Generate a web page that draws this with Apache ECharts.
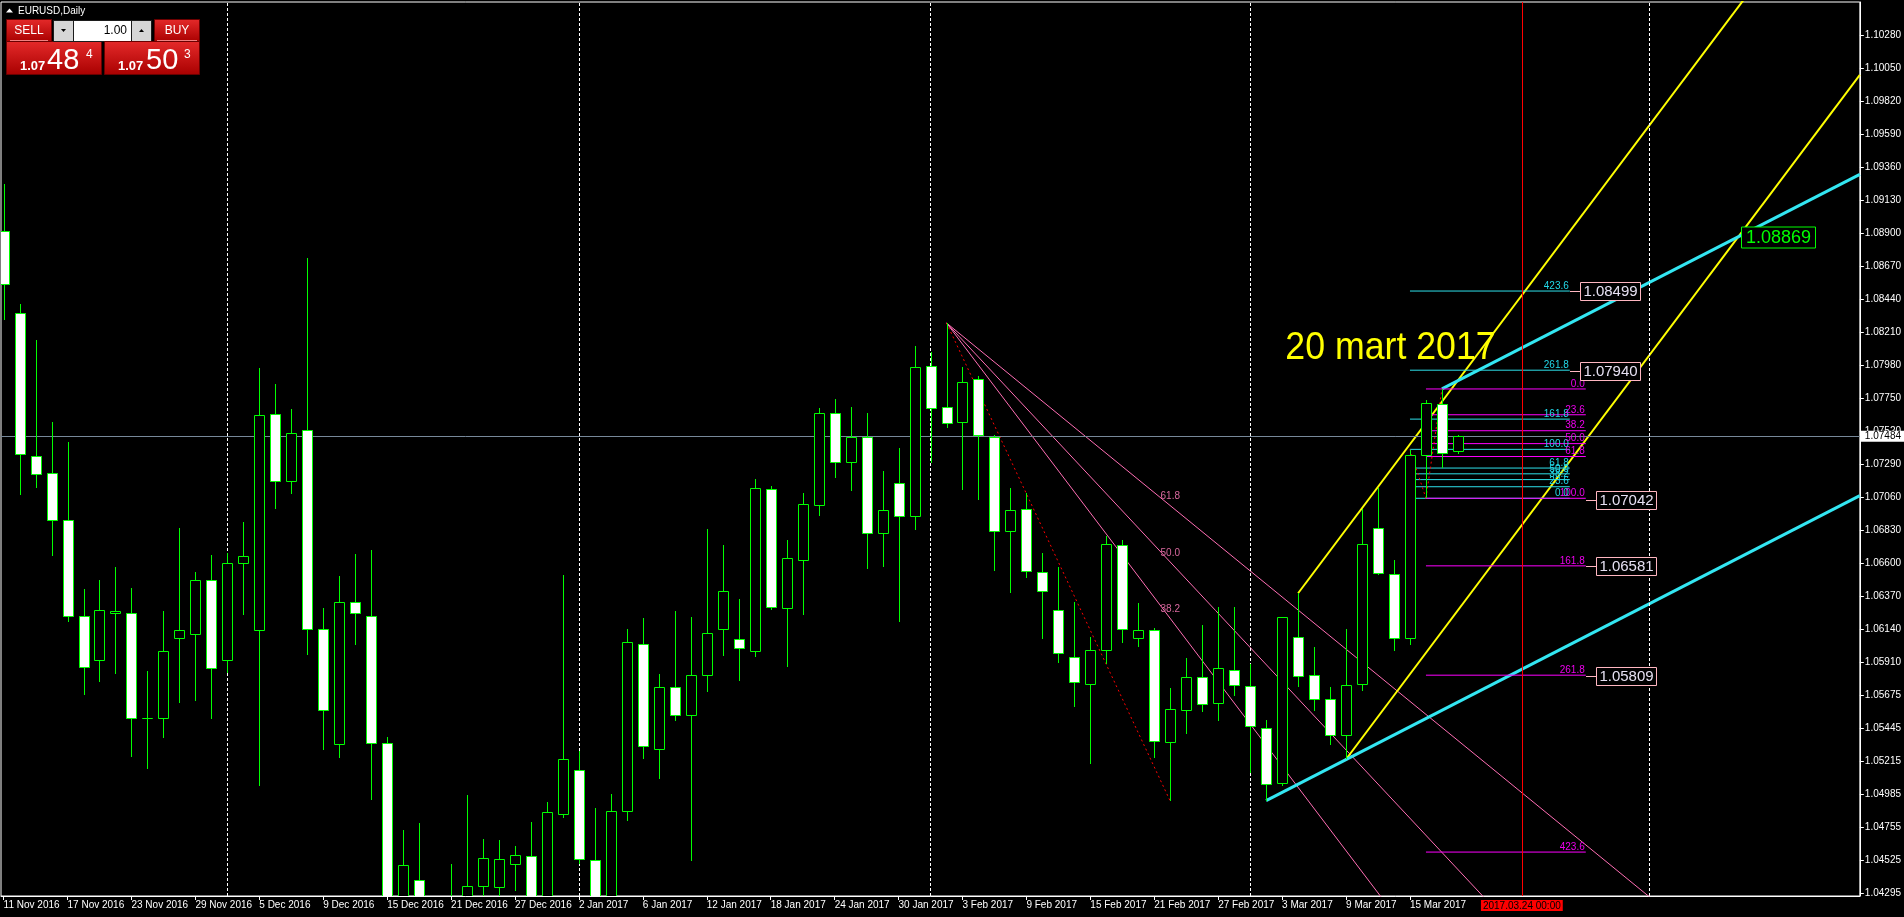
<!DOCTYPE html>
<html><head><meta charset="utf-8">
<script src="https://cdn.jsdelivr.net/npm/echarts@6/dist/echarts.min.js"></script>
<style>html,body{margin:0;padding:0;background:#000;overflow:hidden}#c{width:1904px;height:917px}</style>
</head><body><div id="c"></div>
<script>
// ---------------- DATA ----------------
const barIndex = Array.from({length: 92}, (_, i) => i); // 11 Nov 2016 .. 20 Mar 2017 (daily bars)
const open  = [1.08917,1.08340,1.07344,1.07224,1.06902,1.06234,1.05922,1.06252,1.06253,1.05517,
               1.05517,1.06074,1.06107,1.06484,1.05922,1.06603,1.06130,1.07636,1.07168,1.07526,
               1.06143,1.05335,1.06331,1.06234,1.05348,1.04100,1.04388,1.04000,1.03820,1.04240,
               1.04351,1.04345,1.04504,1.04556,1.04120,1.04848,1.05160,1.04533,1.04050,1.04874,
               1.06033,1.05301,1.05734,1.05544,1.05817,1.06139,1.06067,1.05985,1.07113,1.06283,
               1.06619,1.07006,1.07643,1.07302,1.07478,1.06806,1.07161,1.06931,1.07972,1.07684,
               1.07585,1.07881,1.07481,1.06822,1.06974,1.06539,1.06275,1.05947,1.05760,1.05992,
               1.06723,1.06075,1.06131,1.05350,1.05573,1.05803,1.05627,1.05856,1.05744,1.05451,
               1.05064,1.06081,1.05817,1.05649,1.05400,1.05755,1.06846,1.06523,1.06075,1.07350,
               1.07706,1.07378];
const high  = [1.09240,1.08402,1.08155,1.07583,1.07444,1.06419,1.06481,1.06571,1.06425,1.05848,
               1.06263,1.06847,1.06536,1.06656,1.06672,1.06883,1.07957,1.07846,1.07675,1.08726,
               1.06286,1.06509,1.06662,1.06691,1.05384,1.04738,1.04786,1.04210,1.04501,1.04984,
               1.04676,1.04670,1.04628,1.04796,1.04933,1.06519,1.05290,1.04890,1.04991,1.06143,
               1.06217,1.05827,1.06265,1.06224,1.06838,1.06726,1.06350,1.07188,1.07134,1.06760,
               1.07089,1.07681,1.07742,1.07686,1.07643,1.07240,1.07398,1.08110,1.08071,1.08273,
               1.07963,1.07900,1.07490,1.07126,1.07091,1.06668,1.06571,1.06326,1.06081,1.06785,
               1.06758,1.06320,1.06147,1.05726,1.05939,1.06166,1.06294,1.06294,1.05897,1.05504,
               1.06227,1.06389,1.06014,1.05739,1.06139,1.06979,1.07126,1.06619,1.07388,1.07736,
               1.07813,1.07494];
const low   = [1.08291,1.07077,1.07123,1.06649,1.06192,1.05679,1.05770,1.05825,1.05247,1.05163,
               1.05377,1.05624,1.05637,1.05513,1.05835,1.06240,1.05049,1.06973,1.07084,1.05961,
               1.05299,1.05241,1.06026,1.04949,1.03660,1.03950,1.03850,1.03520,1.03730,1.04120,
               1.04250,1.04270,1.04316,1.03880,1.04050,1.04825,1.04504,1.03400,1.03900,1.04800,
               1.05237,1.05096,1.05501,1.04525,1.05704,1.05955,1.05776,1.05944,1.06272,1.05878,
               1.06240,1.06931,1.07192,1.07099,1.06560,1.06569,1.06192,1.06833,1.07300,1.07539,
               1.07107,1.07040,1.06547,1.06392,1.06494,1.06067,1.05904,1.05598,1.05198,1.05899,
               1.06040,1.06014,1.05243,1.04940,1.05405,1.05560,1.05501,1.05675,1.05136,1.04944,
               1.05046,1.05739,1.05571,1.05334,1.05232,1.05707,1.06513,1.05987,1.06030,1.07051,
               1.07264,1.07358];
const close = [1.08545,1.07360,1.07217,1.06899,1.06234,1.05877,1.06270,1.06266,1.05517,1.05517,
               1.05984,1.06136,1.06484,1.05870,1.06603,1.06646,1.07629,1.07168,1.07509,1.06143,
               1.05578,1.06331,1.06253,1.05348,1.04100,1.04492,1.04000,1.03820,1.04240,1.04351,
               1.04547,1.04540,1.04563,1.04100,1.04861,1.05237,1.04537,1.04050,1.04868,1.06046,
               1.05323,1.05734,1.05544,1.05817,1.06115,1.06408,1.06005,1.07126,1.06291,1.06638,
               1.07014,1.07643,1.07302,1.07478,1.06806,1.06966,1.06926,1.07963,1.07678,1.07574,
               1.07859,1.07489,1.06822,1.06966,1.06542,1.06403,1.05971,1.05771,1.05992,1.06731,
               1.06139,1.06134,1.05357,1.05579,1.05808,1.05617,1.05865,1.05750,1.05464,1.05059,
               1.06221,1.05811,1.05651,1.05400,1.05752,1.06729,1.06529,1.06075,1.07350,1.07713,
               1.07365,1.07484];

const xTickIdx    = [0,4,8,12,16,20,24,28,32,36,40,44,48,52,56,60,64,68,72,76,80,84,88];
const xTickLabels = ['11 Nov 2016','17 Nov 2016','23 Nov 2016','29 Nov 2016','5 Dec 2016','9 Dec 2016',
                     '15 Dec 2016','21 Dec 2016','27 Dec 2016','2 Jan 2017','6 Jan 2017','12 Jan 2017',
                     '18 Jan 2017','24 Jan 2017','30 Jan 2017','3 Feb 2017','9 Feb 2017','15 Feb 2017',
                     '21 Feb 2017','27 Feb 2017','3 Mar 2017','9 Mar 2017','15 Mar 2017'];
const yTickLabels = ['1.10280','1.10050','1.09820','1.09590','1.09360','1.09130','1.08900','1.08670',
                     '1.08440','1.08210','1.07980','1.07750','1.07520','1.07290','1.07060','1.06830',
                     '1.06600','1.06370','1.06140','1.05910','1.05675','1.05445','1.05215','1.04985',
                     '1.04755','1.04525','1.04295'];
const monthLines  = [14, 36, 58, 78, 103];
const currentPrice = 1.07484;
const timeLineIdx = 95, timeLineLabel = '2017.03.24 00:00';

// Fibonacci fan (high 2 Feb -> low 22 Feb)
const fanP1 = [59, 1.08273], fanP2 = [73, 1.04940];
const fanLevels = [38.2, 50.0, 61.8];
// Yellow channel
const yellowBase = [84, 1.05232], yellowBase2 = [100, 1.07606], yellowPar = [81, 1.06389];
// Cyan channel
const cyanBase = [79, 1.04944], cyanBase2 = [84, 1.05230], cyanPar = [90, 1.07813];
// Fibonacci levels
const fibLevels = [0, 23.6, 38.2, 50, 61.8, 100, 161.8, 261.8, 423.6];
const fibMagenta = {x1: 89, p100: 1.07051, x2: 90, p0: 1.07813, xEnd: 99};
const fibCyan    = {x1: 88, p100: 1.07392, x2: 89, p0: 1.07051, xEnd: 98};
// price labels
const priceBoxTexts = ['1.08499','1.07940','1.07042','1.06581','1.05809'];
const priceBoxValues = [1.08499, 1.07940, 1.07042, 1.06581, 1.05809];
const priceBoxIdx = [98, 98, 99, 99, 99];
const crossLabel = '1.08869';
const noteText = '20 mart 2017', notePos = [80.2, 1.08094];

// ---------------- CHART ----------------
const xMin = -0.1625, xMax = 116.15, yMin = 1.04279, yMax = 1.10510;
const FONT = '"Liberation Sans", Arial, sans-serif';

const segs = [];
function seg(a, b, color, width, type, z) { segs.push({a, b, color, width: width || 1, type: type || 'solid', z: z || 1}); }
function lineAt(p, slope, x) { return p[1] + slope * (x - p[0]); }

// fan
const fanSlopes = fanLevels.map(l => {
  const target = fanP2[1] + l / 100 * (fanP1[1] - fanP2[1]);
  return (target - fanP1[1]) / (fanP2[0] - fanP1[0]);
});
fanSlopes.forEach(s => seg(fanP1, [xMax, lineAt(fanP1, s, xMax)], '#ff6eb4', 1));
seg(fanP1, fanP2, '#ff0000', 1, [2, 3]);
// yellow channel
const ySlope = (yellowBase2[1] - yellowBase[1]) / (yellowBase2[0] - yellowBase[0]);
seg(yellowBase, [xMax, lineAt(yellowBase, ySlope, xMax)], '#ffff00', 2);
seg(yellowPar, [xMax, lineAt(yellowPar, ySlope, xMax)], '#ffff00', 2);
// cyan channel
const cSlope = (cyanBase2[1] - cyanBase[1]) / (cyanBase2[0] - cyanBase[0]);
seg(cyanBase, [xMax, lineAt(cyanBase, cSlope, xMax)], '#33e6f2', 3);
seg(cyanPar, [xMax, lineAt(cyanPar, cSlope, xMax)], '#33e6f2', 3);
// intersection of lower yellow & upper cyan
const crossX = (cyanPar[1] - cSlope * cyanPar[0] - yellowBase[1] + ySlope * yellowBase[0]) / (ySlope - cSlope);
const crossY = lineAt(yellowBase, ySlope, crossX);

// fib
const labelItems = [];
function fibDraw(f, color, txtColor) {
  fibLevels.forEach(l => {
    const p = f.p0 + (f.p100 - f.p0) * l / 100;
    seg([f.x1, p], [f.xEnd, p], color, 1);
    labelItems.push({x: f.xEnd, y: p, text: l.toFixed(1), color: txtColor, font: '10px ' + FONT, align: 'right', vAlign: 'bottom', dx: -1, dy: 0});
  });
  seg([f.x1, f.p100], [f.x2, f.p0], '#ff0000', 1, [2, 3]);
}
fibDraw(fibCyan, '#2ee0ea', '#22d8e8');
fibDraw(fibMagenta, '#ff00ff', '#ee00ee');
// fan labels
fanLevels.forEach(l => {
  const target = fanP2[1] + l / 100 * (fanP1[1] - fanP2[1]);
  labelItems.push({x: fanP2[0], y: target, text: l.toFixed(1), color: '#d8689e', font: '10px ' + FONT, align: 'center', vAlign: 'bottom', dx: 0, dy: -4});
});
labelItems.push({x: notePos[0], y: notePos[1], text: noteText, color: '#ffff00', font: '39px ' + FONT, align: 'left', vAlign: 'middle', dx: 0, dy: 0, scaleX: 0.915});

const boxes = priceBoxTexts.map((t, k) => ({x: priceBoxIdx[k], y: priceBoxValues[k], text: t, border: '#ffb6c1', color: '#e6e0f2', font: '15px ' + FONT, w: 60, h: 18}));
boxes.push({x: crossX + 0.15, y: crossY, text: crossLabel, border: '#00ff00', color: '#00ff00', font: '18px ' + FONT, w: 74, h: 21, noConn: true});

const chart = echarts.init(document.getElementById('c'), null, {renderer: 'canvas'});

function renderCandle(params, api) {
  const i = api.value(0), o = api.value(1), c = api.value(2), l = api.value(3), h = api.value(4);
  const cs = params.coordSys;
  const pO = api.coord([i, o]), pC = api.coord([i, c]), pL = api.coord([i, l]), pH = api.coord([i, h]);
  const x = Math.round(pO[0]) + 0.5;
  const t = Math.round(Math.min(pO[1], pC[1])) + 0.5, b = Math.round(Math.max(pO[1], pC[1])) + 0.5;
  const bull = c > o;
  return {
    type: 'group',
    clipPath: {type: 'rect', shape: {x: cs.x, y: cs.y, width: cs.width, height: cs.height}},
    children: [
      {type: 'line', shape: {x1: x, y1: Math.round(pH[1]), x2: x, y2: Math.round(pL[1])}, style: {stroke: '#00ff00', lineWidth: 1}},
      {type: 'rect', shape: {x: x - 5, y: t, width: 10, height: Math.max(b - t, 0)}, style: {fill: bull ? '#000' : '#fff', stroke: '#00ff00', lineWidth: 1}}
    ]
  };
}

const series = [];
series.push({
  type: 'line', name: 'marks', data: [], silent: true, z: 1, symbol: 'none', animation: false,
  markLine: {
    silent: true, symbol: ['none', 'none'], animation: false, precision: 5,
    data: [
      ...monthLines.map(v => ({xAxis: v, lineStyle: {color: '#ffffff', type: [3, 2], width: 1}, label: {show: false}})),
      {xAxis: timeLineIdx, lineStyle: {color: '#ff0000', type: 'solid', width: 1},
       label: {show: true, position: 'start', formatter: timeLineLabel, backgroundColor: '#ff0000', color: '#000',
               fontFamily: FONT, fontSize: 10, padding: [1, 2, 0, 2], distance: 4}},
      {yAxis: currentPrice, lineStyle: {color: '#778899', type: 'solid', width: 1},
       label: {show: true, position: 'end', formatter: currentPrice.toFixed(5), backgroundColor: '#ffffff', color: '#000',
               fontFamily: FONT, fontSize: 10, padding: [1, 4, 0, 4], distance: 1}}
    ]
  }
});
segs.forEach(s => series.push({
  type: 'line', data: [s.a, s.b], symbol: 'none', silent: true, animation: false, z: s.z, clip: true,
  lineStyle: {color: s.color, width: s.width, type: s.type}
}));
series.push({
  type: 'custom', name: 'candles', z: 5, clip: true, animation: false, silent: true,
  data: barIndex.map(i => [i, open[i], close[i], low[i], high[i]]),
  encode: {x: 0, y: [1, 2, 3, 4]},
  renderItem: renderCandle
});
series.push({
  type: 'custom', name: 'labels', z: 6, animation: false, silent: true,
  data: labelItems.map(L => [L.x, L.y]), encode: {x: 0, y: 1},
  renderItem: (params, api) => {
    const L = labelItems[params.dataIndex];
    const p = api.coord([L.x, L.y]);
    return {type: 'text', x: p[0] + L.dx, y: p[1] + L.dy, scaleX: L.scaleX || 1,
      style: {text: L.text, fill: L.color, font: L.font, align: L.align, verticalAlign: L.vAlign}};
  }
});
series.push({
  type: 'custom', name: 'boxes', z: 7, animation: false, silent: true,
  data: boxes.map(B => [B.x, B.y]), encode: {x: 0, y: 1},
  renderItem: (params, api) => {
    const B = boxes[params.dataIndex];
    const p = api.coord([B.x, B.y]);
    const x0 = Math.round(p[0]), y0 = Math.round(p[1]) + 0.5;
    const ch = [];
    const off = B.noConn ? 0 : 10;
    if (!B.noConn) ch.push({type: 'line', shape: {x1: x0, y1: y0, x2: x0 + off, y2: y0}, style: {stroke: B.border, lineWidth: 1}});
    ch.push({type: 'rect', shape: {x: x0 + off + 0.5, y: y0 - B.h / 2, width: B.w, height: B.h}, style: {fill: '#000', stroke: B.border, lineWidth: 1}});
    ch.push({type: 'text', x: x0 + off + 0.5 + B.w / 2, y: y0 + 0.5, style: {text: B.text, fill: B.color, font: B.font, align: 'center', verticalAlign: 'middle'}});
    return {type: 'group', children: ch};
  }
});

const grad = () => new echarts.graphic.LinearGradient(0, 0, 0, 1, [{offset: 0, color: '#e52a2a'}, {offset: 1, color: '#a80000'}]);
const graphic = [
  {type: 'polygon', shape: {points: [[6, 12.5], [9.5, 8.5], [13, 12.5]]}, style: {fill: '#fff'}, z: 100},
  {type: 'text', x: 18, y: 11, style: {text: 'EURUSD,Daily', fill: '#fff', font: '10px ' + FONT, verticalAlign: 'middle'}, z: 100},
  // SELL
  {type: 'rect', shape: {x: 6.5, y: 19.5, width: 45, height: 22}, style: {fill: grad(), stroke: '#6a0000'}, z: 100},
  {type: 'text', x: 29, y: 31, style: {text: 'SELL', fill: '#fff', font: '12px ' + FONT, align: 'center', verticalAlign: 'middle'}, z: 101},
  {type: 'line', shape: {x1: 10, y1: 40.5, x2: 48, y2: 40.5}, style: {stroke: '#f08080', lineWidth: 1}, z: 101},
  {type: 'rect', shape: {x: 6.5, y: 41.5, width: 95, height: 33}, style: {fill: grad(), stroke: '#6a0000'}, z: 100},
  {type: 'text', x: 20, y: 73, style: {text: '1.07', fill: '#fff', font: 'bold 13px ' + FONT, verticalAlign: 'bottom'}, z: 101},
  {type: 'text', x: 47, y: 75, style: {text: '48', fill: '#fff', font: '29px ' + FONT, verticalAlign: 'bottom'}, z: 101},
  {type: 'text', x: 86, y: 49, style: {text: '4', fill: '#fff', font: '12px ' + FONT, verticalAlign: 'top'}, z: 101},
  // spin box
  {type: 'rect', shape: {x: 53, y: 20, width: 99, height: 22}, style: {fill: '#1c1c1c'}, z: 100},
  {type: 'rect', shape: {x: 54, y: 21, width: 19, height: 20}, style: {fill: '#d6d6d6'}, z: 101},
  {type: 'rect', shape: {x: 74, y: 21, width: 57, height: 20}, style: {fill: '#ffffff'}, z: 101},
  {type: 'rect', shape: {x: 132, y: 21, width: 19, height: 20}, style: {fill: '#d6d6d6'}, z: 101},
  {type: 'polygon', shape: {points: [[61, 29], [66, 29], [63.5, 32]]}, style: {fill: '#000'}, z: 102},
  {type: 'polygon', shape: {points: [[139, 32], [144, 32], [141.5, 29]]}, style: {fill: '#000'}, z: 102},
  {type: 'text', x: 127, y: 31, style: {text: '1.00', fill: '#000', font: '12px ' + FONT, align: 'right', verticalAlign: 'middle'}, z: 102},
  // BUY
  {type: 'rect', shape: {x: 154.5, y: 19.5, width: 45, height: 22}, style: {fill: grad(), stroke: '#6a0000'}, z: 100},
  {type: 'text', x: 177, y: 31, style: {text: 'BUY', fill: '#fff', font: '12px ' + FONT, align: 'center', verticalAlign: 'middle'}, z: 101},
  {type: 'line', shape: {x1: 157, y1: 40.5, x2: 197, y2: 40.5}, style: {stroke: '#f08080', lineWidth: 1}, z: 101},
  {type: 'rect', shape: {x: 104.5, y: 41.5, width: 95, height: 33}, style: {fill: grad(), stroke: '#6a0000'}, z: 100},
  {type: 'text', x: 118, y: 73, style: {text: '1.07', fill: '#fff', font: 'bold 13px ' + FONT, verticalAlign: 'bottom'}, z: 101},
  {type: 'text', x: 146, y: 75, style: {text: '50', fill: '#fff', font: '29px ' + FONT, verticalAlign: 'bottom'}, z: 101},
  {type: 'text', x: 184, y: 49, style: {text: '3', fill: '#fff', font: '12px ' + FONT, verticalAlign: 'top'}, z: 101}
];

chart.setOption({
  backgroundColor: '#000000',
  animation: false,
  grid: {left: 1, top: 2, right: 42, bottom: 21, show: true, borderColor: '#ffffff', borderWidth: 1, backgroundColor: 'transparent'},
  xAxis: {
    type: 'value', min: xMin, max: xMax, position: 'bottom',
    axisLine: {show: true, onZero: false, lineStyle: {color: '#ffffff', width: 1}},
    axisTick: {show: true, length: 4, customValues: xTickIdx, lineStyle: {color: '#ffffff'}},
    axisLabel: {show: true, customValues: xTickIdx, color: '#ffffff', fontFamily: FONT, fontSize: 10, margin: 4, align: 'left',
      formatter: v => { const k = xTickIdx.indexOf(Math.round(v)); return k >= 0 ? xTickLabels[k] : ''; }},
    splitLine: {show: false}
  },
  yAxis: {
    type: 'value', min: yMin, max: yMax, position: 'right', scale: true,
    axisLine: {show: true, onZero: false, lineStyle: {color: '#ffffff', width: 1}},
    axisTick: {show: true, length: 4, customValues: yTickLabels.map(Number), lineStyle: {color: '#ffffff'}},
    axisLabel: {show: true, customValues: yTickLabels.map(Number), color: '#ffffff', fontFamily: FONT, fontSize: 10, margin: 5,
      formatter: v => { const k = yTickLabels.map(Number).findIndex(t => Math.abs(t - v) < 1e-7); return k >= 0 ? yTickLabels[k] : v.toFixed(5); }},
    splitLine: {show: false}
  },
  series,
  graphic
});
</script>
</body></html>
